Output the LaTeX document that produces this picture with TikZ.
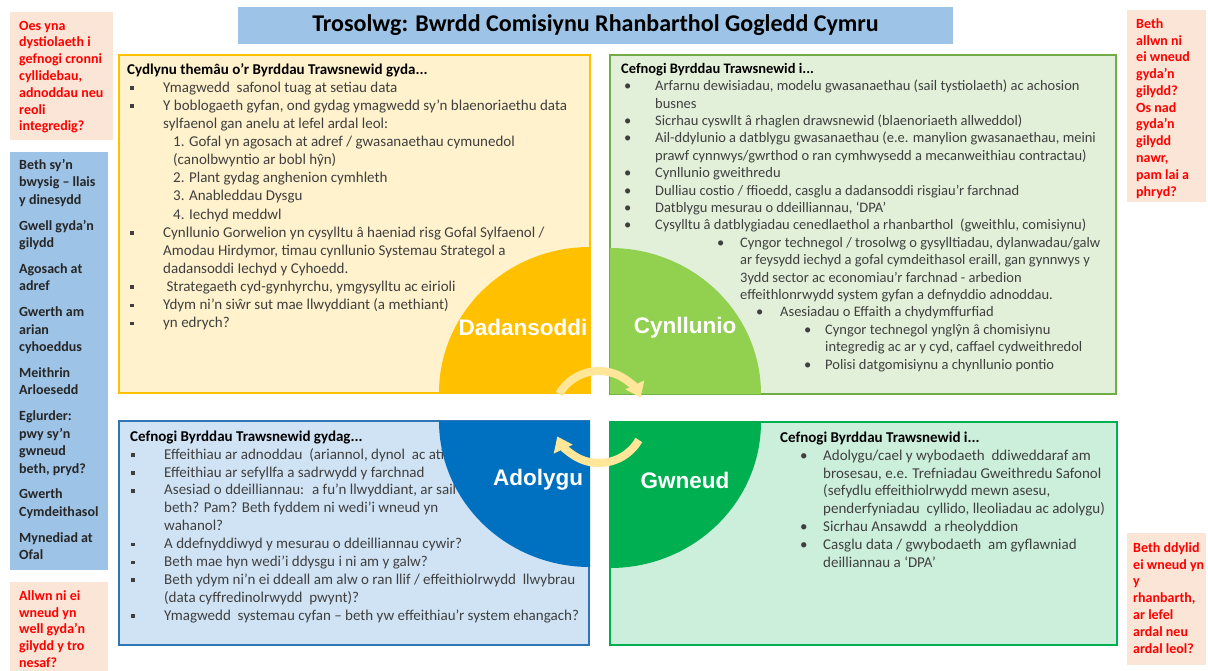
\documentclass[tikz,border=0pt]{standalone}
\usepackage{fontspec}
\setmainfont{Carlito}
\newfontfamily\arialfont{Liberation Sans}
\usetikzlibrary{arrows.meta}

\definecolor{titleblue}{HTML}{9DC3E6}
\definecolor{peach}{HTML}{FBE5D6}
\definecolor{redtxt}{HTML}{FF0000}
\definecolor{bodygray}{HTML}{3F3F3F}
\definecolor{ylwline}{HTML}{FFC000}
\definecolor{ylwfill}{HTML}{FFF2CC}
\definecolor{grnline}{HTML}{70AD47}
\definecolor{grnfill}{HTML}{E2F0D9}
\definecolor{grnq}{HTML}{92D050}
\definecolor{blueline}{HTML}{2E75B6}
\definecolor{bluefill}{HTML}{D0E3F4}
\definecolor{blueq}{HTML}{0070C0}
\definecolor{mintline}{HTML}{00B050}
\definecolor{mintfill}{HTML}{CCEFDC}
\definecolor{arrowylw}{HTML}{FFE699}

\newcommand{\sqb}{\rule[2.4pt]{3.6pt}{3.6pt}}
\newcommand{\rdb}{\textbullet}
\newcommand{\itm}[2]{\hspace*{#1pt}\makebox[#2pt][l]}
\newcommand{\ind}[1]{\hspace*{#1pt}}
\newcommand{\fst}{\rule{0pt}{11pt}}
\newcommand{\bodyfont}[2]{\fontsize{#1pt}{#2pt}\selectfont}
\newcommand{\sidefont}[1]{\fontsize{14pt}{#1pt}\selectfont\bfseries}

\begin{document}
\begin{tikzpicture}[x=1pt,y=-1pt,
		txt/.style={inner sep=0pt, anchor=north west, align=left, text=bodygray},
		side/.style={inner sep=0pt, anchor=north west, align=left, text=redtxt, font=\sidefont{16.8}},
		qlabel/.style={text=white, inner sep=0pt, font=\arialfont\bfseries\fontsize{22.5pt}{27pt}\selectfont},
		cyc/.style={draw=arrowylw, line width=8pt, -{Triangle[width=20pt,length=14pt]}}]
	\useasboundingbox (0,0) rectangle (1208,671);
	\fill[white] (0,0) rectangle (1208,671);
	%% define boxes
	\filldraw[fill=ylwfill, draw=ylwline, line width=2.5pt] (119,55) rectangle (590,393);
	\filldraw[fill=grnfill, draw=grnline, line width=2.5pt] (610,55) rectangle (1116,394);
	\filldraw[fill=bluefill, draw=blueline, line width=2.5pt] (119,421) rectangle (589,645);
	\filldraw[fill=mintfill, draw=mintline, line width=2.5pt] (610,422) rectangle (1117,645);
	\fill[titleblue] (238,7) rectangle (953,44);
	\fill[titleblue] (10,152) rectangle (108,570);
	\fill[peach] (10,12) rectangle (113,140);
	\fill[peach] (10,582) rectangle (108,671);
	\fill[peach] (1127,10) rectangle (1206,202);
	\fill[peach] (1127,533) rectangle (1206,665);
	%% define texts
	\node (title) at (595.5,25.5) [inner sep=0pt, font=\fontsize{24pt}{29pt}\selectfont\bfseries] {Trosolwg: Bwrdd Comisiynu Rhanbarthol Gogledd Cymru};
	\node (tltxt) at (127,63) [txt, font=\bodyfont{15}{18.1}] {\fst\textcolor{black}{\textbf{Cydlynu themâu o’r Byrddau Trawsnewid gyda...}}\\
		\itm{3}{33}{\sqb}Ymagwedd~ safonol tuag at setiau data\\
		\itm{3}{33}{\sqb}Y boblogaeth gyfan, ond gydag ymagwedd sy’n blaenoriaethu data\\
		\ind{36}sylfaenol gan anelu at lefel ardal leol:\\
		\ind{46}1. Gofal yn agosach at adref / gwasanaethau cymunedol\\
		\ind{46}(canolbwyntio ar bobl hŷn)\\
		\ind{46}2. Plant gydag anghenion cymhleth\\
		\ind{46}3. Anableddau Dysgu\\
		\ind{46}4. Iechyd meddwl\\
		\itm{3}{33}{\sqb}Cynllunio Gorwelion yn cysylltu â haeniad risg Gofal Sylfaenol /\\
		\ind{36}Amodau Hirdymor, timau cynllunio Systemau Strategol a\\
		\ind{36}dadansoddi Iechyd y Cyhoedd.\\
		\itm{3}{33}{\sqb}\ Strategaeth cyd-gynhyrchu, ymgysylltu ac eirioli\\
		\itm{3}{33}{\sqb}Ydym ni’n siŵr sut mae llwyddiant (a methiant)\\
		\itm{3}{33}{\sqb}yn edrych?};
	\node (trtxt) at (621,62) [txt, font=\bodyfont{14.5}{17.4}] {\fst\textcolor{black}{\textbf{Cefnogi Byrddau Trawsnewid i...}}\\
		\itm{3}{31}{\rdb}Arfarnu dewisiadau, modelu gwasanaethau (sail tystiolaeth) ac achosion\\
		\ind{34}busnes\\
		\itm{3}{31}{\rdb}Sicrhau cyswllt â rhaglen drawsnewid (blaenoriaeth allweddol)\\
		\itm{3}{31}{\rdb}Ail-ddylunio a datblygu gwasanaethau (e.e. manylion gwasanaethau, meini\\
		\ind{34}prawf cynnwys/gwrthod o ran cymhwysedd a mecanweithiau contractau)\\
		\itm{3}{31}{\rdb}Cynllunio gweithredu\\
		\itm{3}{31}{\rdb}Dulliau costio / ffioedd, casglu a dadansoddi risgiau’r farchnad\\
		\itm{3}{31}{\rdb}Datblygu mesurau o ddeilliannau, ‘DPA’\\
		\itm{3}{31}{\rdb}Cysylltu â datblygiadau cenedlaethol a rhanbarthol~ (gweithlu, comisiynu)\\
		\itm{96}{23}{\rdb}Cyngor technegol / trosolwg o gysylltiadau, dylanwadau/galw\\
		\ind{119}ar feysydd iechyd a gofal cymdeithasol eraill, gan gynnwys y\\
		\ind{119}3ydd sector ac economiau’r farchnad - arbedion\\
		\ind{119}effeithlonrwydd system gyfan a defnyddio adnoddau.\\
		\itm{135}{24}{\rdb}Asesiadau o Effaith a chydymffurfiad\\
		\itm{183}{21}{\rdb}Cyngor technegol ynglŷn â chomisiynu\\
		\ind{204}integredig ac ar y cyd, caffael cydweithredol\\
		\itm{183}{21}{\rdb}Polisi datgomisiynu a chynllunio pontio};
	\node (bltxt) at (130,430) [txt, font=\bodyfont{15}{17.9}] {\fst\textcolor{black}{\textbf{Cefnogi Byrddau Trawsnewid gydag...}}\\
		\itm{1}{33}{\sqb}Effeithiau ar adnoddau~ (ariannol, dynol~ ac ati)\\
		\itm{1}{33}{\sqb}Effeithiau ar sefyllfa a sadrwydd y farchnad\\
		\itm{1}{33}{\sqb}Asesiad o ddeilliannau:~ a fu’n llwyddiant, ar sail\\
		\ind{34}beth? Pam? Beth fyddem ni wedi’i wneud yn\\
		\ind{34}wahanol?\\
		\itm{1}{33}{\sqb}A ddefnyddiwyd y mesurau o ddeilliannau cywir?\\
		\itm{1}{33}{\sqb}Beth mae hyn wedi’i ddysgu i ni am y galw?\\
		\itm{1}{33}{\sqb}Beth ydym ni’n ei ddeall am alw o ran llif / effeithiolrwydd~ llwybrau\\
		\ind{34}(data cyffredinolrwydd~ pwynt)?\\
		\itm{1}{33}{\sqb}Ymagwedd~ systemau cyfan – beth yw effeithiau’r system ehangach?};
	\node (brtxt) at (780,431) [txt, font=\bodyfont{15}{17.9}] {\fst\textcolor{black}{\textbf{Cefnogi Byrddau Trawsnewid i...}}\\
		\itm{20}{23}{\rdb}Adolygu/cael y wybodaeth~ ddiweddaraf am\\
		\ind{43}brosesau, e.e. Trefniadau Gweithredu Safonol\\
		\ind{43}(sefydlu effeithiolrwydd mewn asesu,\\
		\ind{43}penderfyniadau~ cyllido, lleoliadau ac adolygu)\\
		\itm{20}{23}{\rdb}Sicrhau Ansawdd~ a rheolyddion\\
		\itm{20}{23}{\rdb}Casglu data / gwybodaeth~ am gyflawniad\\
		\ind{43}deilliannau a ‘DPA’};
	\node (valuescol) at (19,158) [txt, text=black!85, font=\sidefont{17.6}] {\fst Beth sy’n\\bwysig – llais\\y dinesydd\\[8pt]Gwell gyda’n\\gilydd\\[8pt]Agosach at\\adref\\[8pt]Gwerth am\\arian\\cyhoeddus\\[8pt]Meithrin\\Arloesedd\\[8pt]Eglurder:\\pwy sy’n\\gwneud\\beth, pryd?\\[8pt]Gwerth\\Cymdeithasol\\[8pt]Mynediad at\\Ofal};
	\node (qevid) at (19,19) [side] {\fst Oes yna\\dystiolaeth i\\gefnogi cronni\\cyllidebau,\\adnoddau neu\\reoli\\integredig?};
	\node (qnext) at (19,589) [side] {\fst Allwn ni ei\\wneud yn\\well gyda’n\\gilydd y tro\\nesaf?};
	\node (qtogether) at (1136,17) [side] {\fst Beth\\allwn ni\\ei wneud\\gyda’n\\gilydd?\\Os nad\\gyda’n\\gilydd\\nawr,\\pam lai a\\phryd?};
	\node (qregion) at (1133,541) [side] {\fst Beth ddylid\\ei wneud yn\\y\\rhanbarth,\\ar lefel\\ardal neu\\ardal leol?};
	%% define quarters
	\fill[ylwline] (590,393) -- ++(-151,0) arc[start angle=180, end angle=90, x radius=151pt, y radius=146pt] -- cycle;
	\fill[grnq] (610,394) -- ++(0,-146) arc[start angle=90, end angle=0, x radius=151pt, y radius=146pt] -- cycle;
	\fill[blueq] (590,421) -- ++(-151,0) arc[start angle=180, end angle=270, x radius=151pt, y radius=146pt] -- cycle;
	\fill[mintline] (610,422) -- ++(151,0) arc[start angle=0, end angle=-90, x radius=151pt, y radius=146pt] -- cycle;
	\node (dadlbl) at (523,327) [qlabel] {Dadansoddi};
	\node (cynlbl) at (685,328) [qlabel] {Cynllunio};
	\node (adolbl) at (538,480) [qlabel] {Adolygu};
	\node (gwnlbl) at (685,480) [qlabel] {Gwneud};
	%% define arrows
	\coordinate (hub) at (599,417);
	\draw[cyc] (hub) ++(150:46pt) arc[start angle=150, end angle=25, radius=46pt];
	\draw[cyc] (hub) ++(-30:46pt) arc[start angle=-30, end angle=-155, radius=46pt];
\end{tikzpicture}
\end{document}
